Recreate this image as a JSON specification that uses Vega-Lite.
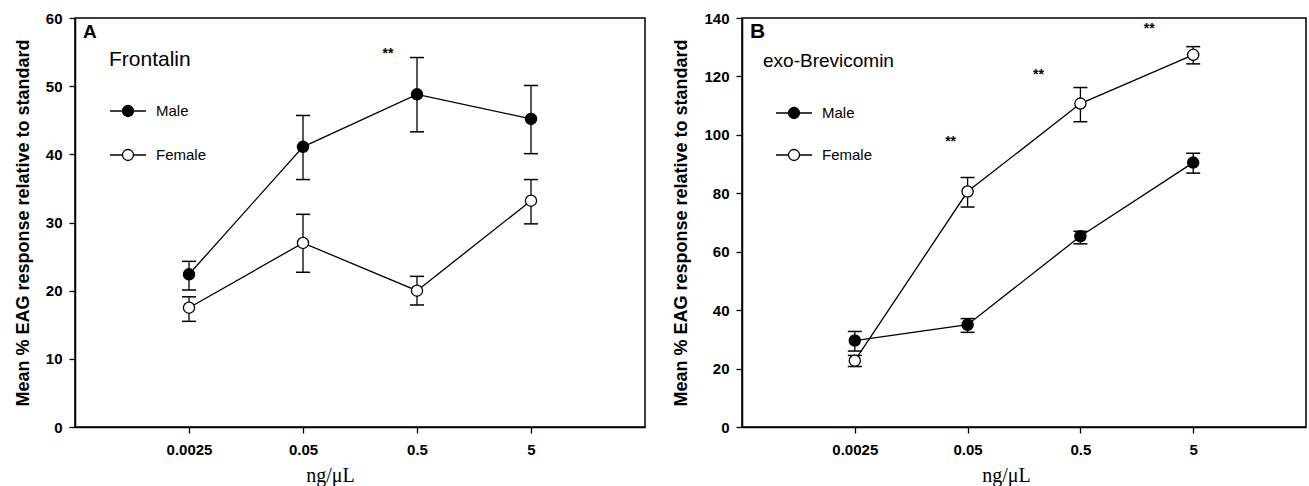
{
  "$schema": "https://vega.github.io/schema/vega-lite/v6.json",
  "padding": {"left": 13, "top": 10, "right": 0, "bottom": 0},
  "background": "white",
  "config": {
    "font": "Liberation Sans",
    "view": {"stroke": "black", "strokeWidth": 1.5},
    "axis": {"domainColor": "black", "domainWidth": 1.5, "tickColor": "black", "tickWidth": 1.3, "tickSize": 6, "labelColor": "black", "titleColor": "black", "grid": false, "labelFont": "Liberation Sans", "labelFontSize": 15, "labelFontWeight": "bold"},
    "axisY": {"titleFontSize": 18, "titleFontWeight": "bold", "labelPadding": 7, "titlePadding": 13},
    "axisX": {"titleFont": "Liberation Serif", "titleFontSize": 20, "titleFontWeight": "normal", "labelPadding": 9, "titlePadding": 8, "labelAngle": 0},
    "legend": {"orient": "none", "direction": "vertical", "symbolType": "M-1,0L-0.306,0M0.306,0L1,0M0.306,0A0.306,0.306,0,1,1,-0.306,0A0.306,0.306,0,1,1,0.306,0Z", "symbolSize": 1296, "symbolStrokeColor": "black", "symbolStrokeWidth": 1.3, "labelFont": "Liberation Sans", "labelFontSize": 15, "labelColor": "black", "labelOffset": 9, "titleFont": "Liberation Sans", "titleFontWeight": "normal", "titleColor": "black", "titlePadding": 22, "rowPadding": 16, "padding": 0, "titleLimit": 300},
    "title": {"anchor": "start", "frame": "group", "fontWeight": "bold", "color": "black", "offset": -31, "dx": 8, "font": "Liberation Sans"}
  },
  "datasets": {
    "eag": [
      {"panel": "A", "conc": "0.0025", "sex": "Male", "mean": 22.4, "lo": 20.1, "hi": 24.3},
      {"panel": "A", "conc": "0.05", "sex": "Male", "mean": 41.1, "lo": 36.3, "hi": 45.7},
      {"panel": "A", "conc": "0.5", "sex": "Male", "mean": 48.8, "lo": 43.3, "hi": 54.2},
      {"panel": "A", "conc": "5", "sex": "Male", "mean": 45.2, "lo": 40.1, "hi": 50.1},
      {"panel": "A", "conc": "0.0025", "sex": "Female", "mean": 17.5, "lo": 15.5, "hi": 19.1},
      {"panel": "A", "conc": "0.05", "sex": "Female", "mean": 27.0, "lo": 22.7, "hi": 31.2},
      {"panel": "A", "conc": "0.5", "sex": "Female", "mean": 20.0, "lo": 17.9, "hi": 22.1},
      {"panel": "A", "conc": "5", "sex": "Female", "mean": 33.2, "lo": 29.8, "hi": 36.3},
      {"panel": "B", "conc": "0.0025", "sex": "Male", "mean": 29.6, "lo": 26.0, "hi": 32.7},
      {"panel": "B", "conc": "0.05", "sex": "Male", "mean": 35.0, "lo": 32.4, "hi": 37.1},
      {"panel": "B", "conc": "0.5", "sex": "Male", "mean": 65.3, "lo": 62.7, "hi": 67.0},
      {"panel": "B", "conc": "5", "sex": "Male", "mean": 90.5, "lo": 86.9, "hi": 93.7},
      {"panel": "B", "conc": "0.0025", "sex": "Female", "mean": 22.7, "lo": 20.7, "hi": 24.5},
      {"panel": "B", "conc": "0.05", "sex": "Female", "mean": 80.6, "lo": 75.3, "hi": 85.4},
      {"panel": "B", "conc": "0.5", "sex": "Female", "mean": 110.7, "lo": 104.5, "hi": 116.2},
      {"panel": "B", "conc": "5", "sex": "Female", "mean": 127.4, "lo": 124.3, "hi": 130.2}
    ]
  },
  "hconcat": [
    {
      "width": 570,
      "height": 409,
      "title": {"text": "A", "fontSize": 19},
      "data": {"name": "eag"},
      "transform": [{"filter": "datum.panel === 'A'"}],
      "encoding": {
        "x": {"field": "conc", "type": "ordinal", "scale": {"type": "point", "domain": ["0.0025", "0.05", "0.5", "5"], "padding": 1}, "axis": {"title": "ng/μL", "titleX": 255}}
      },
      "layer": [
        {"mark": {"type": "line", "stroke": "black", "strokeWidth": 1.3}, "encoding": {"y": {"field": "mean", "type": "quantitative", "scale": {"domain": [0, 60], "nice": false}, "axis": {"title": "Mean % EAG response relative to standard", "values": [0, 10, 20, 30, 40, 50, 60]}}, "detail": {"field": "sex"}}},
        {"mark": {"type": "rule", "stroke": "black", "strokeWidth": 1.3}, "encoding": {"y": {"field": "lo", "type": "quantitative", "title": "Mean % EAG response relative to standard"}, "y2": {"field": "hi"}}},
        {"mark": {"type": "tick", "color": "black", "size": 14, "thickness": 1.5, "opacity": 1}, "encoding": {"y": {"field": "lo", "type": "quantitative", "title": "Mean % EAG response relative to standard"}}},
        {"mark": {"type": "tick", "color": "black", "size": 14, "thickness": 1.5, "opacity": 1}, "encoding": {"y": {"field": "hi", "type": "quantitative", "title": "Mean % EAG response relative to standard"}}},
        {"mark": {"type": "point", "filled": true, "size": 125, "stroke": "black", "strokeWidth": 1.3, "opacity": 1}, "encoding": {"y": {"field": "mean", "type": "quantitative", "title": "Mean % EAG response relative to standard"}, "fill": {"field": "sex", "type": "nominal", "scale": {"domain": ["Male", "Female"], "range": ["black", "white"]}, "legend": {"title": "Frontalin", "titleFontSize": 21, "legendX": 34, "legendY": 31}}}},
        {"data": {"values": [{"conc": "0.5", "y": 54.4}]}, "mark": {"type": "text", "text": "**", "fontSize": 14, "fontWeight": "bold", "color": "black", "dx": -29, "dy": -2, "baseline": "middle"}, "encoding": {"y": {"field": "y", "type": "quantitative", "title": "Mean % EAG response relative to standard"}}}
      ]
    },
    {
      "width": 564,
      "height": 409,
      "title": {"text": "B", "fontSize": 21},
      "data": {"name": "eag"},
      "transform": [{"filter": "datum.panel === 'B'"}],
      "encoding": {
        "x": {"field": "conc", "type": "ordinal", "scale": {"type": "point", "domain": ["0.0025", "0.05", "0.5", "5"], "padding": 1}, "axis": {"title": "ng/μL", "titleX": 264}}
      },
      "layer": [
        {"mark": {"type": "line", "stroke": "black", "strokeWidth": 1.3}, "encoding": {"y": {"field": "mean", "type": "quantitative", "scale": {"domain": [0, 140], "nice": false}, "axis": {"title": "Mean % EAG response relative to standard", "values": [0, 20, 40, 60, 80, 100, 120, 140]}}, "detail": {"field": "sex"}}},
        {"mark": {"type": "rule", "stroke": "black", "strokeWidth": 1.3}, "encoding": {"y": {"field": "lo", "type": "quantitative", "title": "Mean % EAG response relative to standard"}, "y2": {"field": "hi"}}},
        {"mark": {"type": "tick", "color": "black", "size": 14, "thickness": 1.5, "opacity": 1}, "encoding": {"y": {"field": "lo", "type": "quantitative", "title": "Mean % EAG response relative to standard"}}},
        {"mark": {"type": "tick", "color": "black", "size": 14, "thickness": 1.5, "opacity": 1}, "encoding": {"y": {"field": "hi", "type": "quantitative", "title": "Mean % EAG response relative to standard"}}},
        {"mark": {"type": "point", "filled": true, "size": 125, "stroke": "black", "strokeWidth": 1.3, "opacity": 1}, "encoding": {"y": {"field": "mean", "type": "quantitative", "title": "Mean % EAG response relative to standard"}, "fill": {"field": "sex", "type": "nominal", "scale": {"domain": ["Male", "Female"], "range": ["black", "white"]}, "legend": {"title": "exo-Brevicomin", "titleFontSize": 19, "legendX": 21, "legendY": 34, "symbolOffset": 12, "titlePadding": 23, "rowPadding": 14}}}},
        {"data": {"values": [{"conc": "0.05", "y": 96.9}]}, "mark": {"type": "text", "text": "**", "fontSize": 14, "fontWeight": "bold", "color": "black", "dx": -17, "dy": -2, "baseline": "middle"}, "encoding": {"y": {"field": "y", "type": "quantitative", "title": "Mean % EAG response relative to standard"}}},
        {"data": {"values": [{"conc": "0.5", "y": 119.9}]}, "mark": {"type": "text", "text": "**", "fontSize": 14, "fontWeight": "bold", "color": "black", "dx": -42, "dy": -2, "baseline": "middle"}, "encoding": {"y": {"field": "y", "type": "quantitative", "title": "Mean % EAG response relative to standard"}}},
        {"data": {"values": [{"conc": "5", "y": 135.6}]}, "mark": {"type": "text", "text": "**", "fontSize": 14, "fontWeight": "bold", "color": "black", "dx": -44, "dy": -2, "baseline": "middle"}, "encoding": {"y": {"field": "y", "type": "quantitative", "title": "Mean % EAG response relative to standard"}}}
      ]
    }
  ],
  "spacing": 26,
  "resolve": {"scale": {"fill": "independent", "y": "independent"}, "legend": {"fill": "independent"}}
}
